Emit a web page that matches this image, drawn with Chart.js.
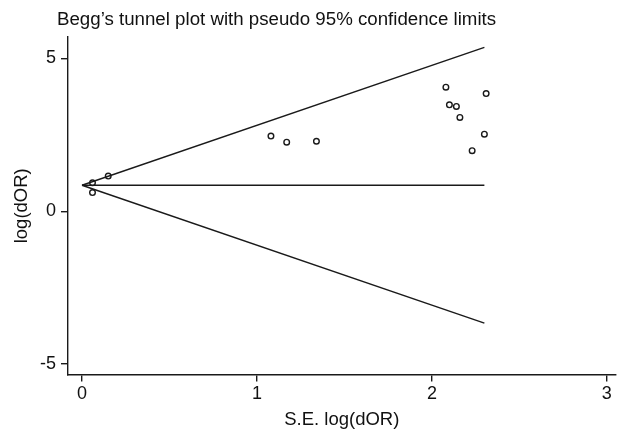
<!DOCTYPE html>
<html>
<head>
<meta charset="utf-8">
<script src="https://cdn.jsdelivr.net/npm/chart.js@4/dist/chart.umd.min.js"></script>
<style>
  html, body { margin: 0; padding: 0; background: #fff; }
  #wrap { width: 621px; height: 432px; }
</style>
</head>
<body>
<div id="wrap"><canvas id="c" width="621" height="432"></canvas></div>
<script>
'use strict';

// исследования: стандартная ошибка и log(dOR)
const seLogDOR = [0.06, 0.06, 0.15, 1.08, 1.17, 1.34, 2.08, 2.10, 2.14, 2.16, 2.23, 2.30, 2.31];
const logDOR = [0.93, 0.61, 1.15, 2.46, 2.26, 2.29, 4.06, 3.48, 3.43, 3.07, 1.98, 2.52, 3.85];

// псевдо 95% границы и общая оценка
const limitSE = [0, 2.30];
const upperLimit = [0.85, 5.36];
const lowerLimit = [0.85, -3.66];
const pooledLine = [0.85, 0.85];

const xTicks = [0, 1, 2, 3];
const yTicks = [-5, 0, 5];

const titleText = 'Begg\u2019s tunnel plot with pseudo 95% confidence limits';
const ink = '#1a1a1a';
const font = 'Liberation Sans, Arial, sans-serif';

function pts(xs, ys) {
    return xs.map((x, i) => ({ x: x, y: ys[i] }));
}

function lineSet(ys) {
    return {
        type: 'line',
        data: pts(limitSE, ys),
        borderColor: ink,
        borderWidth: 1.4,
        pointRadius: 0,
        fill: false,
    };
}

// заголовок сверху слева
const titlePlugin = {
    id: 'plotTitle',
    afterDraw(chart) {
        const ctx = chart.ctx;
        ctx.save();
        ctx.fillStyle = '#111';
        ctx.font = '18.7px ' + font;
        ctx.textBaseline = 'middle';
        ctx.textAlign = 'left';
        ctx.fillText(titleText, 57, 20);
        ctx.restore();
    },
};

const cfg = {
    type: 'scatter',
    data: {
        datasets: [
            {
                data: pts(seLogDOR, logDOR),
                pointRadius: 2.8,
                pointBorderWidth: 1.4,
                pointBorderColor: ink,
                pointBackgroundColor: 'rgba(0,0,0,0)',
                showLine: false,
            },
            lineSet(upperLimit),
            lineSet(lowerLimit),
            lineSet(pooledLine),
        ],
    },
    options: {
        responsive: false,
        animation: false,
        layout: { padding: { top: 37, right: 0, left: 0, bottom: 0 } },
        plugins: {
            legend: { display: false },
            tooltip: { enabled: false },
        },
        scales: {
            x: {
                type: 'linear',
                min: -0.08,
                max: 3.05,
                afterBuildTicks: (s) => { s.ticks = xTicks.map((v) => ({ value: v })); },
                afterFit: (s) => { s.height = 57.5; },
                border: { display: true, color: ink, width: 1.4 },
                grid: { drawOnChartArea: false, drawTicks: true, tickLength: 7, color: ink, lineWidth: 1.4 },
                ticks: { color: '#111', padding: 2, font: { family: font, size: 18 } },
                title: {
                    display: true,
                    text: 'S.E. log(dOR)',
                    color: '#111',
                    font: { family: font, size: 18.5 },
                    padding: { top: 0, bottom: 1 },
                },
            },
            y: {
                type: 'linear',
                min: -5.34,
                max: 5.7,
                afterBuildTicks: (s) => { s.ticks = yTicks.map((v) => ({ value: v })); },
                afterFit: (s) => { s.width = 68; },
                border: { display: true, color: ink, width: 1.4 },
                grid: { drawOnChartArea: false, drawTicks: true, tickLength: 7, color: ink, lineWidth: 1.4 },
                ticks: { color: '#111', padding: 5, font: { family: font, size: 18 } },
                title: {
                    display: true,
                    text: 'log(dOR)',
                    color: '#111',
                    font: { family: font, size: 18.5 },
                    padding: { top: 11, bottom: 0 },
                },
            },
        },
    },
    plugins: [titlePlugin],
};

new Chart(document.getElementById('c').getContext('2d'), cfg);
</script>
</body>
</html>
